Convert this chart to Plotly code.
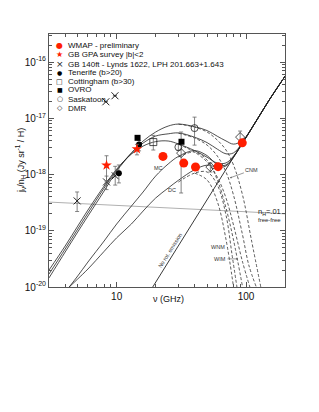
import numpy as np
import plotly.graph_objects as go

# ---------------- data ----------------
wmap_nu = [22.8, 33.0, 40.7, 60.8, 93.5]
wmap_j = [2.1e-18, 1.6e-18, 1.36e-18, 1.38e-18, 3.67e-18]

gpa_nu = [8.35, 14.35]
gpa_j = [1.46e-18, 2.84e-18]
gpa_hi = [0.70e-18, 0.6e-18]
gpa_lo = [0.72e-18, 0.6e-18]

gb140_nu = [4.95, 8.35, 9.75, 8.25, 9.7]
gb140_j = [3.4e-19, 7.4e-19, 9.5e-19, 1.97e-17, 2.52e-17]
gb140_hi = [1.5e-19, 2.0e-19, 4.5e-19, 0.0, 0.0]
gb140_lo = [1.2e-19, 2.0e-19, 3.0e-19, 0.0, 0.0]

ten_nu = [10.4, 14.9]
ten_j = [1.06e-18, 3.44e-18]
ten_hi = [0.42e-18, 0.6e-18]
ten_lo = [0.35e-18, 0.8e-18]

cot_nu = [19.2]
cot_j = [3.78e-18]
cot_hi = [1.2e-18]
cot_lo = [1.05e-18]

ovro_nu = [14.5, 31.7]
ovro_j = [4.5e-18, 3.83e-18]

sask_nu = [30.0, 40.0]
sask_j = [3.08e-18, 6.7e-18]
sask_hi = [0.4e-18, 3.8e-18]
sask_lo = [0.4e-18, 3.36e-18]

dmr_nu = [31.5, 53.0, 90.0]
dmr_j = [2.41e-18, 1.36e-18, 4.64e-18]
dmr_hi = [3.3e-18, 0.25e-18, 1.3e-18]
dmr_lo = [1.94e-18, 0.25e-18, 0.8e-18]

# thermal dust only ("No rot. emission")
therm_nu = [19, 30, 40, 50, 60, 70, 80, 94, 120, 150, 200]
therm_j = [1.0e-20, 5.4e-20, 1.55e-19, 3.56e-19, 7.0e-19, 1.23e-18, 2.0e-18,
           3.63e-18, 9.0e-18, 2.07e-17, 5.6e-17]

# free-free, n_H = .01
ff_nu = [3, 10, 30, 100, 200]
ff_j = [3.24e-19, 2.85e-19, 2.5e-19, 2.18e-19, 2.0e-19]

# total (spinning + thermal) model curves
tot_nu = [3, 4, 5, 6, 8, 10, 13, 16, 20, 25, 30, 40, 50, 60, 70, 80, 94, 120, 150, 200]
tot_a = [1.45e-20, 4.19e-20, 9.5e-20, 1.83e-19, 5.1e-19, 1.15e-18, 2.41e-18, 3.94e-18,
         5.7e-18, 7.28e-18, 7.9e-18, 7.1e-18, 6.06e-18, 4.8e-18, 3.96e-18, 3.48e-18,
         4.06e-18, 9.0e-18, 2.07e-17, 5.6e-17]
tot_b = [1.70e-20, 4.74e-20, 1.07e-19, 2.07e-19, 5.75e-19, 1.20e-18, 2.41e-18, 3.63e-18,
         4.83e-18, 5.3e-18, 5.5e-18, 4.62e-18, 3.70e-18, 2.83e-18, 2.34e-18, 2.43e-18,
         3.71e-18, 9.0e-18, 2.07e-17, 5.6e-17]
tot_c = [2.0e-20, 5.36e-20, 1.21e-19, 2.34e-19, 6.25e-19, 1.25e-18, 2.31e-18, 3.21e-18,
         3.85e-18, 3.95e-18, 3.5e-18, 2.67e-18, 2.03e-18, 1.60e-18, 1.61e-18, 2.13e-18,
         3.66e-18, 9.0e-18, 2.07e-17, 5.6e-17]
mcdc_nu = [4.3, 5, 6, 8, 10, 13, 16, 20, 25, 30, 40, 50, 60, 70, 80, 94, 120, 150, 200]
tot_mc = [1.0e-20, 1.57e-20, 2.78e-20, 6.58e-20, 1.32e-19, 2.75e-19, 4.89e-19, 9.4e-19,
          1.54e-18, 2.10e-18, 2.67e-18, 2.17e-18, 1.50e-18, 1.48e-18, 2.07e-18, 3.64e-18,
          9.0e-18, 2.07e-17, 5.6e-17]
tot_dc = [1.0e-20, 1.39e-20, 2.09e-20, 4.3e-20, 7.5e-20, 1.32e-19, 2.24e-19, 3.82e-19,
          5.75e-19, 7.9e-19, 1.22e-18, 1.47e-18, 1.35e-18, 1.42e-18, 2.03e-18, 3.63e-18,
          9.0e-18, 2.07e-17, 5.6e-17]

# spinning-dust-only curves (dashed)
spin_a_nu = [30, 40, 50, 60, 70, 80, 94, 110, 130]
spin_a = [7.9e-18, 6.98e-18, 5.7e-18, 4.1e-18, 2.73e-18, 1.48e-18, 4.3e-19, 6.9e-20, 1.0e-20]
spin_b_nu = [30, 40, 50, 60, 70, 80, 94, 105, 120]
spin_b = [5.45e-18, 4.46e-18, 3.34e-18, 2.13e-18, 1.11e-18, 4.3e-19, 8.4e-20, 2.46e-20, 1.0e-20]
spin_c_nu = [30, 40, 50, 60, 70, 80, 94, 107]
spin_c = [3.45e-18, 2.51e-18, 1.67e-18, 9.0e-19, 3.82e-19, 1.26e-19, 2.78e-20, 1.0e-20]
spin_mc_nu = [30, 40, 50, 60, 70, 80, 94]
spin_mc = [2.05e-18, 2.51e-18, 1.81e-18, 8.0e-19, 2.54e-19, 6.85e-20, 1.0e-20]
spin_dc_nu = [30, 40, 50, 60, 70, 78, 85]
spin_dc = [7.36e-19, 1.06e-18, 1.11e-18, 6.5e-19, 1.9e-19, 3.7e-20, 1.0e-20]
spin_e_nu = [40, 50, 60, 70, 80]
spin_e = [1.06e-18, 8.0e-19, 3.3e-19, 7.0e-20, 1.0e-20]

legend_labels = ["WMAP - preliminary", "GB GPA survey |b|<2",
                 "GB 140ft - Lynds 1622, LPH 201.663+1.643", "Tenerife (b>20)",
                 "Cottingham (b>30)", "OVRO", "Saskatoon", "DMR"]

RED = "rgb(255,30,0)"
FONT = "Liberation Sans, Arial, sans-serif"

fig = go.Figure()

fig.add_trace(go.Scatter(x=ff_nu, y=ff_j, mode="lines",
                         line=dict(color="#b0b0b0", width=1), hoverinfo="skip"))
fig.add_trace(go.Scatter(x=therm_nu, y=therm_j, mode="lines",
                         line=dict(color="#222", width=0.9), hoverinfo="skip"))
for xs, ys in [(tot_nu, tot_a), (tot_nu, tot_b), (tot_nu, tot_c),
               (mcdc_nu, tot_mc), (mcdc_nu, tot_dc)]:
    fig.add_trace(go.Scatter(x=xs, y=ys, mode="lines", line_shape="spline",
                             line=dict(color="#222", width=0.8), hoverinfo="skip"))
for xs, ys in [(spin_a_nu, spin_a), (spin_b_nu, spin_b), (spin_c_nu, spin_c),
               (spin_mc_nu, spin_mc), (spin_dc_nu, spin_dc), (spin_e_nu, spin_e)]:
    fig.add_trace(go.Scatter(x=xs, y=ys, mode="lines", line_shape="spline",
                             line=dict(color="#333", width=0.8, dash="3px,2px"),
                             hoverinfo="skip"))


def eb(hi, lo):
    return dict(type="data", symmetric=False, array=hi, arrayminus=lo,
                color="#666", thickness=0.8, width=2)


fig.add_trace(go.Scatter(x=gb140_nu, y=gb140_j, mode="markers", error_y=eb(gb140_hi, gb140_lo),
                         marker=dict(symbol="x-thin", size=7, line=dict(color="#222", width=1))))
fig.add_trace(go.Scatter(x=dmr_nu, y=dmr_j, mode="markers", error_y=eb(dmr_hi, dmr_lo),
                         marker=dict(symbol="diamond-open", size=7, color="#222",
                                     line=dict(width=0.8))))
fig.add_trace(go.Scatter(x=sask_nu, y=sask_j, mode="markers", error_y=eb(sask_hi, sask_lo),
                         marker=dict(symbol="circle-open", size=7, color="#222",
                                     line=dict(width=0.8))))
fig.add_trace(go.Scatter(x=cot_nu, y=cot_j, mode="markers", error_y=eb(cot_hi, cot_lo),
                         marker=dict(symbol="square-open", size=7, color="#222",
                                     line=dict(width=0.8))))
fig.add_trace(go.Scatter(x=ten_nu, y=ten_j, mode="markers", error_y=eb(ten_hi, ten_lo),
                         marker=dict(symbol="circle", size=6, color="black")))
fig.add_trace(go.Scatter(x=ovro_nu, y=ovro_j, mode="markers",
                         marker=dict(symbol="square", size=6, color="black")))
fig.add_trace(go.Scatter(x=gpa_nu, y=gpa_j, mode="markers", error_y=eb(gpa_hi, gpa_lo),
                         marker=dict(symbol="star", size=8, color=RED)))
fig.add_trace(go.Scatter(x=wmap_nu, y=wmap_j, mode="markers",
                         marker=dict(symbol="circle", size=9, color=RED)))

# ---------------- legend drawn as text ----------------
symbols = [("●", RED, 8), ("★", RED, 8), ("×", "#222", 9), ("●", "black", 6),
           ("□", "#222", 7), ("■", "black", 6), ("○", "#222", 7), ("◇", "#222", 7)]
row_y = [0.954, 0.917, 0.881, 0.847, 0.8115, 0.7787, 0.7419, 0.7063]
annotations = []
for (sym, col, sz), lab, yy in zip(symbols, legend_labels, row_y):
    annotations.append(dict(xref="paper", yref="paper", x=0.0466, y=yy, text=sym,
                            showarrow=False, xanchor="center", yanchor="middle",
                            font=dict(family="DejaVu Sans", size=sz, color=col)))
    annotations.append(dict(xref="paper", yref="paper", x=0.074, y=yy, text=lab,
                            showarrow=False, xanchor="left", yanchor="middle",
                            font=dict(family=FONT, size=8, color="#111")))

small = dict(family=FONT, size=5.5, color="#333")
annotations += [
    dict(x=np.log10(20.9), y=-17.884, text="MC", showarrow=False, font=small),
    dict(x=np.log10(26.8), y=-18.276, text="DC", showarrow=False, font=small),
    dict(x=np.log10(75), y=-18.06, text="CNM", showarrow=True, arrowhead=2,
         arrowsize=0.6, arrowwidth=0.6, arrowcolor="#555", ax=22, ay=-8, font=small),
    dict(x=np.log10(61), y=-19.289, text="WNM", showarrow=False, font=small),
    dict(x=np.log10(86.7), y=-19.50, text="WIM", showarrow=True, arrowhead=2,
         arrowsize=0.6, arrowwidth=0.6, arrowcolor="#555", ax=-18, ay=0, font=small),
    dict(x=np.log10(26), y=-19.342, text="No rot. emission", showarrow=False,
         textangle=-58, font=small),
    dict(x=np.log10(153), y=-18.658, text="n<sub>H</sub>=.01", showarrow=False,
         font=dict(family=FONT, size=7.5, color="#222")),
    dict(x=np.log10(153), y=-18.80, text="free-free", showarrow=False,
         font=dict(family=FONT, size=6, color="#222")),
    dict(xref="paper", yref="paper", x=(12 - 49) / 236, y=0.5, textangle=-90,
         text="j<sub>ν</sub>/n<sub>H</sub> (Jy sr<sup>-1</sup> / H)", showarrow=False,
         font=dict(family=FONT, size=9, color="#111")),
    dict(xref="paper", yref="paper", x=0.505, y=(287 - 306) / 253,
         text="ν (GHz)", showarrow=False,
         font=dict(family=FONT, size=9, color="#111")),
]

x_minor = [4, 5, 6, 7, 8, 9, 20, 30, 40, 50, 60, 70, 80, 90]
y_minor = [m * 10.0 ** e for e in range(-20, -15) for m in range(2, 10)]

axis_common = dict(type="log", showline=True, linecolor="#555", linewidth=1,
                   mirror="allticks", ticks="inside", ticklen=5, tickwidth=0.8,
                   tickcolor="#555", showgrid=False, zeroline=False,
                   tickfont=dict(family=FONT, size=10, color="#111"))

fig.update_layout(
    width=319, height=412,
    margin=dict(l=41, r=42, t=26, b=133),
    paper_bgcolor="white", plot_bgcolor="white",
    showlegend=False,
    xaxis=dict(**axis_common, range=[np.log10(3), np.log10(200)],
               tickvals=[10, 100], ticktext=["10", "100"],
               minor=dict(ticks="inside", ticklen=3, tickwidth=0.8, tickcolor="#555",
                          tickmode="array", tickvals=x_minor)),
    yaxis=dict(**axis_common, range=[-20, -15.5],
               tickvals=[1e-20, 1e-19, 1e-18, 1e-17, 1e-16],
               ticktext=["10<sup>-20</sup>", "10<sup>-19</sup>", "10<sup>-18</sup>",
                         "10<sup>-17</sup>", "10<sup>-16</sup>"],
               minor=dict(ticks="inside", ticklen=3, tickwidth=0.8, tickcolor="#555",
                          tickmode="array", tickvals=y_minor)),
    annotations=annotations,
)

fig.write_html("out.html")
